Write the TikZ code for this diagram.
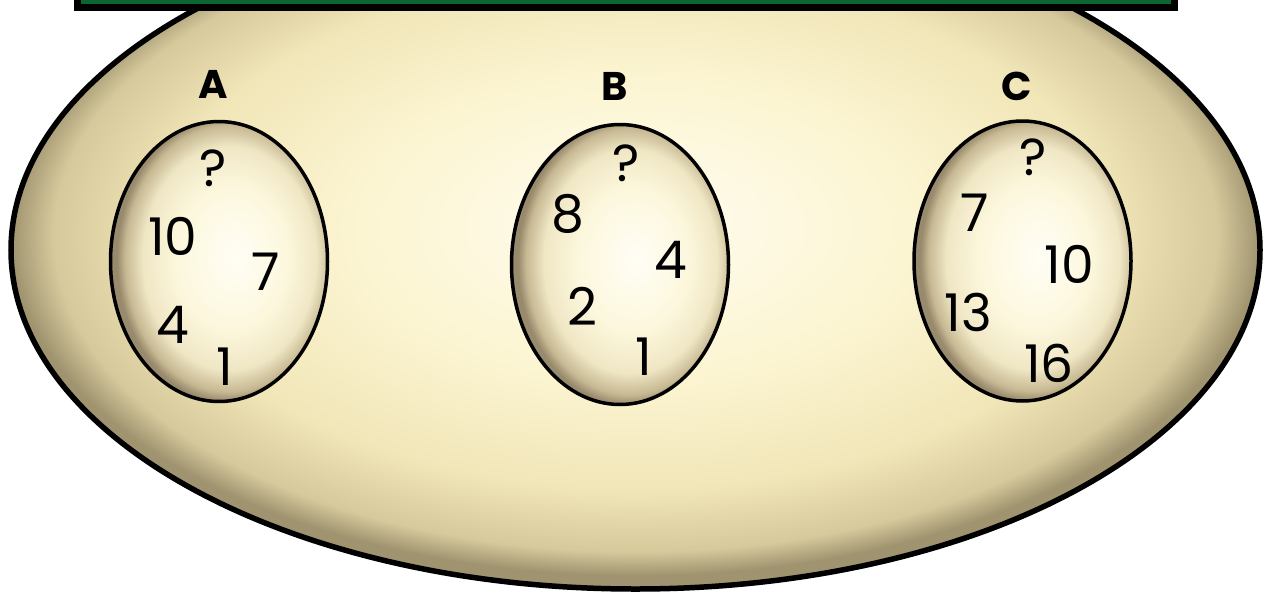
\documentclass[tikz,border=0pt]{standalone}
\usepackage{fontspec}
\setmainfont{Poppins}
\usetikzlibrary{shapes.geometric}
\definecolor{barg}{HTML}{0B6632}
\definecolor{bA}{HTML}{FEFCF0}
\definecolor{bB}{HTML}{FCF5D2}
\definecolor{bC}{HTML}{F1E6B8}
\definecolor{bE}{HTML}{D6C99C}
\definecolor{bD}{HTML}{A09470}
\definecolor{eA}{HTML}{FFFEF6}
\definecolor{eB}{HTML}{FCF7DC}
\definecolor{eC}{HTML}{EFE6C4}
\definecolor{eE}{HTML}{C6B892}
\definecolor{eD}{HTML}{988A6C}
\pgfdeclareradialshading{bigsh}{\pgfpoint{0bp}{2bp}}{color(0bp)=(bA); color(11bp)=(bB); color(19bp)=(bC); color(23.3bp)=(bE); color(25bp)=(bD); color(50bp)=(bD)}
\pgfdeclareradialshading{eggsh}{\pgfpoint{4bp}{1bp}}{color(0bp)=(eA); color(13bp)=(eB); color(20bp)=(eC); color(23.8bp)=(eE); color(25.5bp)=(eD); color(50bp)=(eD)}
\tikzset{
  bigoval/.style={ellipse, draw=black, line width=5.5pt, shading=bigsh, inner sep=0pt, minimum width=1249pt, minimum height=678pt},
  egg/.style={ellipse, draw=black, line width=3.5pt, shading=eggsh, inner sep=0pt, minimum width=217pt, minimum height=280pt},
  num/.style={font=\fontsize{52}{52}\selectfont, inner sep=0pt, text=black},
  lab/.style={font=\fontsize{40}{40}\selectfont\bfseries, inner sep=0pt, text=black},
}
\begin{document}
\begin{tikzpicture}[x=1pt,y=-1pt]
\useasboundingbox (0,0) rectangle (1270,595);
\begin{scope}
\clip (0,0) rectangle (1270,595);
\node[bigoval] (big) at (635.5,250) {};
\draw[line width=7pt, fill=barg] (77.5,-30) rectangle (1174.5,7.5);
\node[egg] (ea) at (219,261.5) {};
\node[egg] (eb) at (620,264.5) {};
\node[egg] (ec) at (1022.5,261) {};
\end{scope}
\node[lab] (la) at (213,84) {A};
\node[lab] (lb) at (615,86) {B};
\node[lab] (lc) at (1017,86) {C};
% A
\node[num] (a1) at (213,168) {?};
\node[num] (a2) at (173,236) {10};
\node[num] (a3) at (266,272) {7};
\node[num] (a4) at (173,325) {4};
\node[num] (a5) at (225,367) {1};
% B
\node[num] (b1) at (626,163) {?};
\node[num] (b2) at (568,214) {8};
\node[num] (b3) at (671,260) {4};
\node[num] (b4) at (582,306) {2};
\node[num] (b5) at (644,357) {1};
% C
\node[num] (c1) at (1033,157) {?};
\node[num] (c2) at (975,213) {7};
\node[num] (c3) at (1069,264) {10};
\node[num] (c4) at (968,312) {13};
\node[num] (c5) at (1049,363) {16};
\end{tikzpicture}
\end{document}
